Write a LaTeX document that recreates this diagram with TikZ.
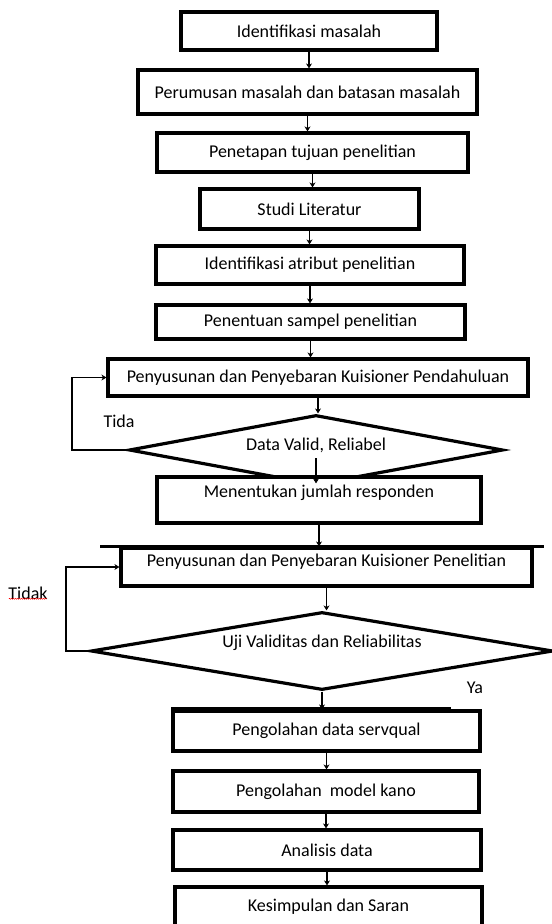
\documentclass[tikz,border=0pt]{standalone}
\usepackage{fontspec}
\setmainfont{Carlito}
\usetikzlibrary{shapes.geometric,decorations.pathmorphing,arrows.meta}
\tikzset{
  kotak/.style={draw, line width=3.2bp, fill=white, inner sep=2bp},
  belah/.style={draw, shape=diamond, line width=3.2bp, fill=white, inner sep=2bp},
  panah/.style={-{Stealth[length=5bp,width=6bp]}, line width=1.3bp},
}
\begin{document}
\begin{tikzpicture}[x=1bp, y=-1bp, font=\fontsize{18bp}{21bp}\selectfont]
\useasboundingbox (0,0) rectangle (552,924);
\clip (0,0) rectangle (552,924);
% alur utama
\node[kotak, minimum width=256bp, minimum height=38bp](b1) at (309,31){Identifikasi masalah};
\node[kotak, minimum width=339bp, minimum height=44bp](b2) at (307.5,92){Perumusan masalah dan batasan masalah};
\node[kotak, minimum width=311bp, minimum height=39bp](b3) at (312.5,152.5){Penetapan tujuan penelitian};
\node[kotak, minimum width=219bp, minimum height=40bp](b4) at (309.5,209){Studi Literatur};
\node[kotak, minimum width=308bp, minimum height=38bp](b5) at (310,265){Identifikasi atribut penelitian};
\node[kotak, minimum width=309bp, minimum height=34bp](b6) at (310.5,322){Penentuan sampel penelitian};
\node[kotak, minimum width=420bp, minimum height=37bp](b7) at (318,377.5){Penyusunan dan Penyebaran Kuisioner Pendahuluan};
\node[belah, minimum width=374bp, minimum height=70bp, aspect=5.3, text depth=12bp](d1) at (316,450){Data Valid, Reliabel};
\node[kotak, minimum width=324bp, minimum height=46bp, text depth=17bp](b8) at (319,500){Menentukan jumlah responden};
\node[kotak, minimum width=411bp, minimum height=38bp, text depth=13.5bp](b9) at (326.5,567){Penyusunan dan Penyebaran Kuisioner Penelitian};
\draw[line width=3.4bp]([xshift=-19bp]b9.north west)--([xshift=10bp]b9.north east);
\node[belah, minimum width=462bp, minimum height=78bp, aspect=5.9, text depth=19.5bp](d2) at (322,651){Uji Validitas dan Reliabilitas};
\node[kotak, minimum width=307bp, minimum height=40bp](b10) at (326.5,731){Pengolahan data servqual};
\draw[line width=3.2bp]([yshift=1.2bp]b10.north west)--++(280,0);
\node[kotak, minimum width=306bp, minimum height=41bp](b11) at (326,791.5){Pengolahan\ \ model kano};
\node[kotak, minimum width=308bp, minimum height=40bp](b12) at (327,850){Analisis data};
\node[kotak, minimum width=307bp, minimum height=40bp](b13) at (328.5,907){Kesimpulan dan Saran};

\foreach \a/\b in {b1/b2,b2/b3,b3/b4,b4/b5,b5/b6,b6/b7,b7/d1,b8/b9,b9/d2,d2/b10,b10/b11,b11/b12,b12/b13}
{
    \draw[panah](\a.south)--(\a.south|-\b.north);
}
\draw[panah]([yshift=-8bp]d1.center)--([yshift=-8bp]d1.center|-b8.north);

% putaran balik
\coordinate (k1) at (72,0);
\coordinate (k2) at (66,0);
\draw[panah](d1.west)--(d1.west-|k1)|-(b7.west);
\draw[panah](d2.west)--(d2.west-|k2)|-(b9.west);
\node (tida) at (119,421){Tida};
\node (tidak) at (28,593){Tidak};
\draw[red, line width=0.5bp, decorate, decoration={snake, amplitude=0.5bp, segment length=2bp}]([yshift=4bp,xshift=4bp]tidak.south west)--([yshift=4bp,xshift=-4bp]tidak.south east);
\node (ya) at (475,688){Ya};
\end{tikzpicture}
\end{document}
